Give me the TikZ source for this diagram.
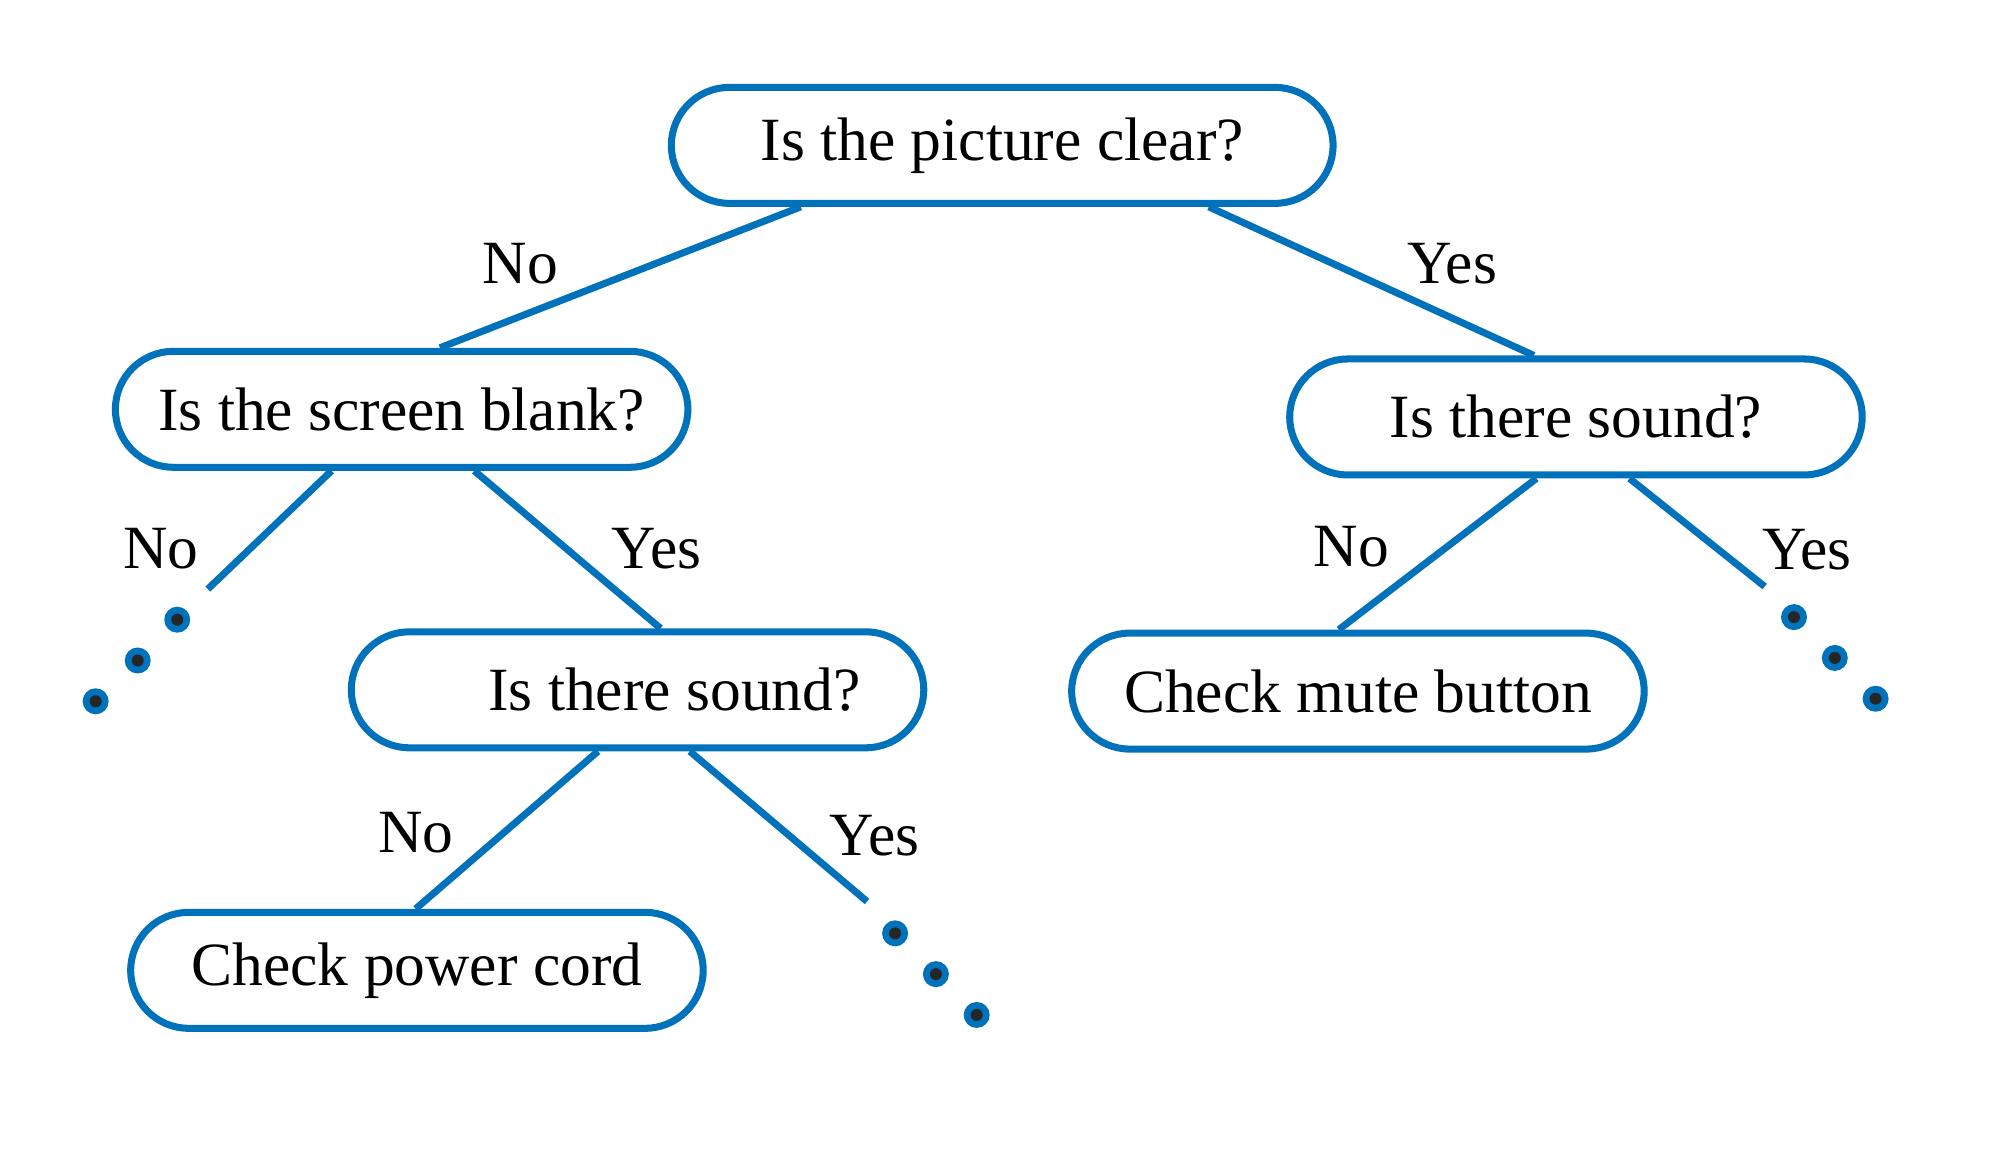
\documentclass[tikz,border=0pt]{standalone}
\usepackage{fontspec}
\setmainfont{Liberation Serif}
\usetikzlibrary{calc}
\definecolor{bl}{RGB}{0,114,188}
\begin{document}
\begin{tikzpicture}[x=0.012903cm,y=-0.012903cm,
  box/.style={draw=bl,line width=2pt,rounded corners=0.58cm,minimum width=#1*0.01275cm,minimum height=1.16cm,inner sep=0pt,font=\fontsize{17.5}{20}\selectfont},
  conn/.style={draw=bl,line width=2pt},
  lab/.style={font=\fontsize{17.5}{20}\selectfont},
  dot/.style={circle,fill=bl,minimum size=0.26cm,inner sep=0pt,path picture={\fill[black!85] (path picture bounding box.center) circle (0.06cm);}}]
\useasboundingbox (0,0) rectangle (1550,891);
\begin{scope}[x=0.01275cm,y=-0.01275cm]
\node[box=519] (top) at (786,114) {Is the picture clear?};
\node[box=449] (blank) at (315,321) {Is the screen blank?};
\node[box=449] (rs) at (1236,327) {Is there sound?};
\node[box=449] (ms) at (500,541) {\hspace{1.2em}Is there sound?};
\node[box=449] (mute) at (1065,542) {Check mute button};
\node[box=449] (power) at (327,761) {Check power cord};
\coordinate (e1) at (163,462);
\coordinate (e2) at (1384,460);
\coordinate (e3) at (680,707);
\draw[conn] ($(top.south)+(-158,0)$) -- ($(blank.north)+(30,0)$);
\draw[conn] ($(top.south)+(162,0)$) -- ($(rs.north)+(-33,0)$);
\draw[conn] ($(blank.south)+(-55,0)$) -- (e1);
\draw[conn] ($(blank.south)+(57,0)$) -- ($(ms.north)+(18,0)$);
\draw[conn] ($(rs.south)+(-31,0)$) -- ($(mute.north)+(-15,0)$);
\draw[conn] ($(rs.south)+(42,0)$) -- (e2);
\draw[conn] ($(ms.south)+(-31,0)$) -- ($(power.north)+(-1,0)$);
\draw[conn] ($(ms.south)+(41,0)$) -- (e3);
\node[lab] (l1) at (408,207) {No};
\node[lab] (l2) at (1139,207) {Yes};
\node[lab] (l3) at (126,430) {No};
\node[lab] (l4) at (515,430) {Yes};
\node[lab] (l5) at (1060,429) {No};
\node[lab] (l6) at (1417,431) {Yes};
\node[lab] (l7) at (326,653) {No};
\node[lab] (l8) at (686,655) {Yes};
\foreach \n/\x/\y in {a1/139/486,a2/108/518,a3/75/550,b1/1407/484,b2/1439/516,b3/1471/548,c1/702/732,c2/734/764,c3/766/796}
  \node[dot] (\n) at (\x,\y) {};
\end{scope}
\end{tikzpicture}
\end{document}
